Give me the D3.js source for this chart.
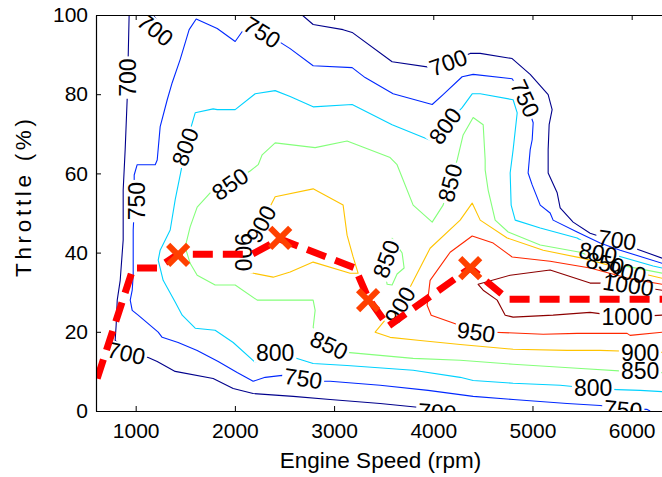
<!DOCTYPE html>
<html><head><meta charset="utf-8">
<script src="https://cdn.jsdelivr.net/npm/d3@7"></script>
<style>
body{margin:0;background:#fff}
svg{display:block}
text{font-family:"Liberation Sans",Arial,Helvetica,sans-serif}
</style>
</head><body>
<svg id="chart" width="662" height="477"></svg>
<script>
// ---------------- DATA ----------------
const xTicks = [1000, 2000, 3000, 4000, 5000, 6000];
const yTicks = [0, 20, 40, 60, 80, 100];
const levels = [700, 750, 800, 850, 900, 950, 1000];

// contour polylines: [engine speed (rpm), throttle (%)]
const contour700 = [
  [[934,100],[924,88.8],[914,78.6],[894,66.0],[874,55.8],[874,43.2],[844,33.0],[814,28.0],[803,21.6],[793,17.8],[924,14.8],[1126,13.5],[1217,12.5],[1398,10.0],[1781,8.2],[1983,5.7],[2184,4.4],[2588,3.7],[2960,2.9],[3464,1.9],[3868,0.9],[4170,0]],
  [[1176,100],[1247,97.6],[1368,93.8]],
  [[2678,100],[2789,97.6],[3091,96.3],[3182,95.6],[3585,88.2],[3989,86.7],[4150,88.0],[4372,90.3],[4473,90.3],[4795,89.0],[4977,85.0],[5158,79.9],[5198,76.1],[5168,72.3],[5158,66.0],[5158,60.1],[5249,55.1],[5279,51.3],[5410,47.7],[5581,44.9],[5853,42.7],[6307,38.6]]
];
const contour750 = [
  [[6186,0],[6156,0.4],[5914,0.6],[5682,1.4],[5349,1.9],[4805,2.9],[4402,3.7],[3948,5.2],[3464,6.5],[2960,7.5],[2789,7.5],[2688,8.2],[2477,9.0],[2305,8.5],[2184,7.5],[2023,9.7],[1832,12.5],[1620,15.3],[1428,17.3],[1267,18.6],[1227,19.9],[1025,24.2],[965,25.4],[945,28.0],[965,30.5],[975,34.3],[975,45.7],[985,50.8],[985,59.6],[1015,62.2],[1197,62.2],[1217,63.4],[1247,71.8],[1318,78.6],[1368,82.9],[1449,88.8],[1539,96.3],[1610,99.0],[1822,96.6],[2003,93.3],[2124,97.6],[2275,95.6],[2426,93.6],[2557,91.5],[2789,87.2],[3182,86.7],[3313,84.2],[3595,80.1],[3989,77.4],[4099,79.9],[4291,84.4],[4402,85.0],[4795,83.9],[4926,78.9],[5007,72.8],[4997,68.5],[4977,66.0],[4956,60.1],[4997,57.1],[5078,52.0],[5178,50.0],[5208,48.2],[5450,45.2],[5682,42.4],[5884,40.6],[6307,37.3]]
];
const contour800 = [
  [[6307,4.9],[6085,5.2],[5853,5.4],[5611,5.7],[5279,6.5],[4805,7.0],[4402,7.7],[4271,8.5],[3797,10.3],[3131,11.5],[2789,12.0],[2457,14.6],[2335,13.5],[2205,12.3],[1983,17.3],[1801,20.4],[1600,20.9],[1469,24.2],[1398,27.5],[1277,33.0],[1227,38.1],[1247,40.6],[1348,45.7],[1398,53.3],[1459,60.9],[1499,66.7],[1529,69.2],[1600,75.3],[1781,76.3],[1822,76.1],[2003,76.1],[2205,80.1],[2406,80.9],[2557,79.4],[2789,76.8],[3182,77.4],[3585,72.3],[3989,68.2],[4120,72.0],[4291,76.6],[4392,80.1],[4473,80.1],[4805,78.6],[4846,75.3],[4805,66.0],[4775,60.1],[4785,52.0],[4826,48.2],[5078,46.2],[5450,43.7],[5662,40.6],[6216,36.6],[6307,36.1]]
];
const contour850 = [
  [[6307,9.7],[6115,10.2],[5954,10.0],[5450,10.8],[4805,11.8],[4271,12.8],[3797,13.3],[3131,14.8],[2950,16.6],[2789,21.1],[2809,25.4],[2789,28.0],[2557,28.0],[2225,28.0],[2003,31.8],[1801,31.8],[1620,34.3],[1549,37.3],[1499,41.4],[1549,46.5],[1620,51.5],[1751,55.1],[1953,57.6],[2154,60.6],[2235,62.2],[2275,64.7],[2406,67.7],[2809,66.5],[3131,68.2],[3565,64.0],[3635,62.2],[3797,52.0],[3989,47.7],[4099,52.0],[4170,57.6],[4241,63.4],[4301,69.7],[4402,74.1],[4503,72.3],[4523,63.4],[4523,60.9],[4553,55.8],[4624,48.2],[4755,45.2],[5078,41.9],[5480,40.1],[5732,37.6],[6307,34.8]],
  [[3585,43.7],[3686,39.9],[3706,36.1],[3635,34.6],[3585,31.8],[3535,32.0],[3494,37.6],[3585,43.7]]
];
const contour900 = [
  [[2184,43.2],[2275,47.7],[2406,54.1],[2789,56.1],[3091,52.0],[3131,44.4],[3192,38.9],[3242,34.8],[3162,34.8],[2789,37.6],[2557,35.1],[2386,33.8],[2124,35.1],[2084,38.1],[2104,41.9],[2184,43.2]],
  [[6307,14.8],[6135,14.8],[5954,15.1],[5682,15.3],[5349,15.3],[4805,15.6],[4271,16.8],[3868,17.8],[3565,18.6],[3414,19.9],[3595,25.4],[3696,27.9],[3767,31.3],[3968,41.1],[4271,48.2],[4392,52.5],[4473,48.2],[4745,43.7],[5108,40.6],[5500,38.6],[5954,35.6],[6307,33.5]]
];
const contour950 = [
  [[6307,19.9],[5984,19.1],[5954,19.6],[5450,19.6],[5108,19.4],[4604,19.9],[4432,20.1],[4200,22.2],[3979,24.2],[3938,26.7],[3968,33.0],[4170,40.1],[4392,44.2],[4604,42.4],[4795,38.9],[5178,37.8],[5581,36.1],[5964,33.5],[6307,32.0]]
];
const contour1000 = [
  [[6307,30.5],[5964,31.8],[5752,32.3],[5581,32.3],[5178,35.6],[4775,34.3],[4452,32.0],[4503,30.5],[4644,28.0],[4725,24.2],[4805,23.7],[5208,24.2],[5581,24.9],[5954,23.7],[6307,24.2]]
];

// contour labels: [rpm, throttle, rotation (deg)]
const labels700 = [[1197,96.3,38],[924,84.2,-90],[904,14.6,12],[4150,88.0,-20],[5853,43.2,8],[4039,-0.3,4]];
const labels750 = [[2275,95.6,32],[4926,78.9,65],[1015,53.0,-90],[2688,8.2,8],[5914,0.4,5]];
const labels800 = [[1499,66.7,-70],[4120,72.0,-55],[2406,14.6,0],[5611,5.7,0],[5662,39.9,10]];
const labels850 = [[1953,57.3,-35],[4170,57.6,-75],[3525,38.4,-70],[2950,16.6,25],[6085,10.2,0],[5732,37.3,12]];
const labels900 = [[2265,47.2,-62],[2084,40.1,90],[3666,26.7,-60],[6085,14.6,0],[5954,35.1,12]];
const labels950 = [[4432,19.9,8]];
const labels1000 = [[5954,23.7,0],[5964,31.8,8]];

// operating path (dashed) and marked points
const pathSpeed    = [612, 975, 1217, 1428, 2174, 2457, 3212, 3343, 3545, 4372, 4755, 6307];
const pathThrottle = [8.2, 36.1, 36.1, 39.6, 39.6, 43.4, 36.1, 28.5, 21.4, 36.1, 28.2, 28.2];
const markSpeed    = [1428, 2457, 3343, 4372];
const markThrottle = [39.4, 43.7, 28.0, 36.1];

// ---------------- STYLE ----------------
const W = 662, H = 477;
const levelColor = {700:"#00008c",750:"#0028ff",800:"#00d2ff",850:"#84ff7a",900:"#ffc400",950:"#ff2800",1000:"#8c0000"};
const FS_TICK = 21, FS_LAB = 23, FS_TITLE = 22.5;

const svg = d3.select("#chart");
const x = d3.scaleLinear().domain([600, 6400]).range([96, 96 + 5800 * 0.0992]);
const y = d3.scaleLinear().domain([0, 100]).range([411, 15]);

const levelTable = [
  {level:700, lines:contour700, labels:labels700},
  {level:750, lines:contour750, labels:labels750},
  {level:800, lines:contour800, labels:labels800},
  {level:850, lines:contour850, labels:labels850},
  {level:900, lines:contour900, labels:labels900},
  {level:950, lines:contour950, labels:labels950},
  {level:1000, lines:contour1000, labels:labels1000}
];

const defs = svg.append("defs");
defs.append("clipPath").attr("id","plotClip").append("rect")
  .attr("x", 96).attr("y", 15).attr("width", W - 96).attr("height", 396);

levelTable.forEach(L => {
  const m = defs.append("mask").attr("id", "mask" + L.level)
    .attr("maskUnits","userSpaceOnUse").attr("x",0).attr("y",0).attr("width",W).attr("height",H);
  m.append("rect").attr("width", W).attr("height", H).attr("fill", "white");
  const tw = String(L.level).length * 0.556 * FS_LAB + 4;
  m.selectAll("rect.gap").data(L.labels).join("rect").attr("class","gap")
    .attr("x", -tw/2).attr("y", -FS_LAB*0.42).attr("width", tw).attr("height", FS_LAB*0.84)
    .attr("fill", "black")
    .attr("transform", d => `translate(${x(d[0])},${y(d[1])}) rotate(${d[2]})`);
});

const plot = svg.append("g").attr("clip-path", "url(#plotClip)");
const line = d3.line().x(d => x(d[0])).y(d => y(d[1]));

levelTable.forEach(L => {
  plot.append("g").attr("mask", `url(#mask${L.level})`)
    .selectAll("path").data(L.lines).join("path")
    .attr("d", line).attr("fill", "none")
    .attr("stroke", levelColor[L.level]).attr("stroke-width", 1.1)
    .attr("stroke-linejoin", "round");
});

levelTable.forEach(L => {
  plot.append("g").selectAll("text").data(L.labels).join("text")
    .attr("transform", d => `translate(${x(d[0])},${y(d[1])}) rotate(${d[2]})`)
    .attr("text-anchor", "middle").attr("dy", "0.35em")
    .attr("font-size", FS_LAB).attr("fill", "#000")
    .text(L.level);
});

// dashed operating path
const pathPts = pathSpeed.map((s, i) => [s, pathThrottle[i]]);
plot.append("path").attr("d", line(pathPts)).attr("fill", "none")
  .attr("stroke", "#ff0000").attr("stroke-width", 7)
  .attr("stroke-dasharray", "20,10").attr("stroke-linejoin", "round");

// X markers
const ms = 10;
plot.selectAll("path.mk").data(markSpeed.map((s, i) => [s, markThrottle[i]])).join("path")
  .attr("class", "mk")
  .attr("d", d => {
    const cx = x(d[0]), cy = y(d[1]);
    return `M${cx-ms},${cy-ms}L${cx+ms},${cy+ms}M${cx-ms},${cy+ms}L${cx+ms},${cy-ms}`;
  })
  .attr("stroke", "#ff4000").attr("stroke-width", 6).attr("fill", "none");

// axes
const styleAxis = g => {
  g.selectAll(".domain").attr("stroke", "#000").attr("stroke-width", 1.2);
  g.selectAll(".tick line").attr("stroke", "#000").attr("stroke-width", 1);
  g.selectAll(".tick text").attr("fill", "#000").attr("font-size", FS_TICK)
    .attr("font-family", '"Liberation Sans",Arial,sans-serif');
};
svg.append("g").attr("transform", "translate(0,411)")
  .call(d3.axisBottom(x).tickValues(xTicks).tickSizeInner(-5).tickSizeOuter(0).tickPadding(12).tickFormat(d3.format("d")))
  .call(styleAxis);
svg.append("g").attr("transform", "translate(96,0)")
  .call(d3.axisLeft(y).tickValues(yTicks).tickSizeInner(-5).tickSizeOuter(0).tickPadding(8))
  .call(styleAxis);
svg.append("g").attr("transform", "translate(0,15)")
  .call(d3.axisTop(x).tickValues(xTicks).tickSizeInner(-5).tickSizeOuter(0).tickFormat(""))
  .call(styleAxis);

// titles
svg.append("text").attr("x", 380.5).attr("y", 468).attr("text-anchor", "middle")
  .attr("font-size", FS_TITLE).attr("fill", "#000").text("Engine Speed (rpm)");
svg.append("text").attr("transform", "translate(31,198) rotate(-90)").attr("text-anchor", "middle")
  .attr("font-size", FS_TITLE).attr("fill", "#000")
  .attr("textLength", 158).attr("lengthAdjust", "spacing")
  .text("Throttle (%)");
</script>
</body></html>
